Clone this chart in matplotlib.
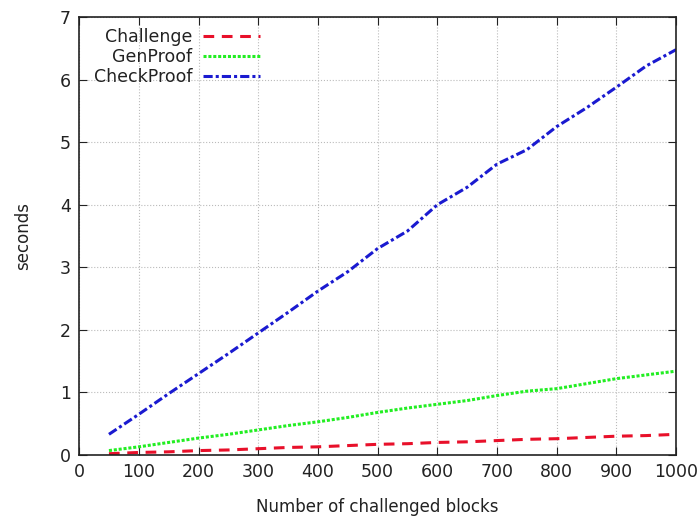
import numpy as np
import matplotlib.pyplot as plt

blocks = [50, 100, 150, 200, 250, 300, 350, 400, 450, 500,
          550, 600, 650, 700, 750, 800, 850, 900, 950, 1000]
challenge = [0.02, 0.04, 0.05, 0.07, 0.08, 0.10, 0.12, 0.13, 0.15, 0.17,
             0.18, 0.20, 0.21, 0.23, 0.25, 0.26, 0.28, 0.30, 0.31, 0.33]
genproof = [0.07, 0.13, 0.20, 0.27, 0.33, 0.40, 0.47, 0.53, 0.60, 0.68,
            0.75, 0.81, 0.87, 0.95, 1.02, 1.06, 1.14, 1.22, 1.28, 1.34]
checkproof = [0.33, 0.65, 0.98, 1.30, 1.62, 1.95, 2.28, 2.62, 2.93, 3.30,
              3.58, 4.00, 4.28, 4.65, 4.88, 5.25, 5.55, 5.88, 6.22, 6.48]

fig = plt.figure(figsize=(7, 5.17), dpi=100)
ax = fig.add_axes([0.113, 0.12, 0.853, 0.847])

ax.plot(blocks, challenge, color='#e8102a', lw=2.2, ls=(0, (3.5, 2.5)), label='Challenge')
ax.plot(blocks, genproof, color='#22ee22', lw=2.2, ls=(0, (1, 0.6)), label='GenProof')
ax.plot(blocks, checkproof, color='#1a1ad0', lw=2.2, ls=(0, (3, 1, 1, 1)), label='CheckProof')

ax.set_xlim(0, 1000)
ax.set_ylim(0, 7)
ax.set_xticks(np.arange(0, 1001, 100))
ax.set_yticks(np.arange(0, 8, 1))
ax.grid(True, color='#bbbbbb', ls=':', lw=0.8)
ax.tick_params(direction='in', top=True, right=True, length=6, labelsize=12.5,
               colors='#222222', pad=6)
for s in ax.spines.values():
    s.set_color('#222222')
    s.set_linewidth(1.2)

ax.set_xlabel('Number of challenged blocks', fontsize=12, color='#222222', labelpad=12)
ax.set_ylabel('seconds', fontsize=12, color='#222222', labelpad=20)

leg = ax.legend(loc='upper left', markerfirst=False, frameon=False, fontsize=12.5,
                handlelength=3.3, handletextpad=0.6, borderaxespad=0.1, labelspacing=0.12,
                bbox_to_anchor=(0.01, 0.995))
for t in leg.get_texts():
    t.set_ha('right')
    t.set_color('#222222')
leg._legend_box.align = 'right'

fig.savefig('out.png', dpi=100)
